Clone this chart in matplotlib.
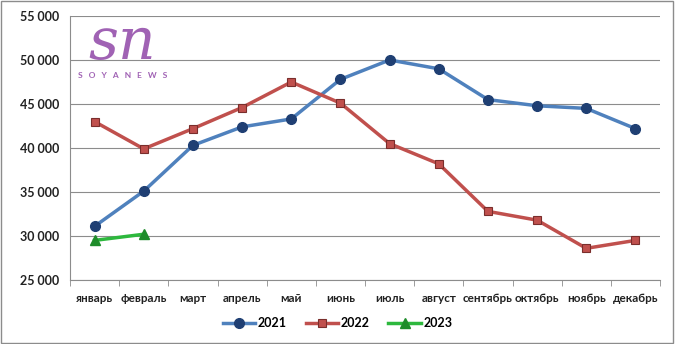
import matplotlib
matplotlib.use("Agg")
import matplotlib.pyplot as plt
from matplotlib.ticker import FuncFormatter, MultipleLocator
import numpy as np

months = ["январь", "февраль", "март", "апрель", "май", "июнь",
          "июль", "август", "сентябрь", "октябрь", "ноябрь", "декабрь"]
v2021 = [31100, 35100, 40300, 42400, 43300, 47800, 50000, 49000, 45500, 44800, 44500, 42200]
v2022 = [43000, 39900, 42200, 44600, 47500, 45100, 40500, 38200, 32800, 31800, 28600, 29500]
v2023 = [29500, 30200]

plt.rcParams['font.family'] = ['Lato', 'DejaVu Sans']

fig = plt.figure(figsize=(6.75, 3.44), dpi=100)
ax = fig.add_axes([70 / 675, 1 - 280 / 344, 590 / 675, 264 / 344])

x = np.arange(len(months))
ax.plot(x, v2021, color="#4F81BD", lw=2.5, marker="o", ms=7,
        mfc="#1F3F73", mec="#1F3F73", label="2021", zorder=3)
ax.plot(x, v2022, color="#C0504D", lw=2.5, marker="s", ms=6,
        mfc="#C0504D", mec="#7A2E2C", mew=0.8, label="2022", zorder=3)
ax.plot(x[:len(v2023)], v2023, color="#2DB83D", lw=2.5, marker="^", ms=7,
        mfc="#1E8C2A", mec="#1E8C2A", label="2023", zorder=3)

ax.set_ylim(25000, 55000)
ax.set_xlim(-0.5, 11.5)
ax.yaxis.set_major_locator(MultipleLocator(5000))
ax.yaxis.set_major_formatter(FuncFormatter(lambda v, p: f"{int(v):,}".replace(",", " ")))
ax.grid(axis="y", color="#8C8C8C", lw=0.8)
ax.set_axisbelow(True)

ax.set_xticks(x)
ax.set_xticklabels(months)
ax.set_xticks(np.arange(-0.5, 12, 1), minor=True)
ax.tick_params(axis="x", which="major", length=0, pad=9, labelsize=8.5)
ax.tick_params(axis="x", which="minor", length=4, color="#8C8C8C")
ax.tick_params(axis="y", length=0, labelsize=9, pad=8)
for lbl in ax.get_xticklabels() + ax.get_yticklabels():
    lbl.set_fontweight("bold")
    lbl.set_color("#222222")

for s in ["top", "right"]:
    ax.spines[s].set_visible(False)
for s in ["left", "bottom"]:
    ax.spines[s].set_color("#8C8C8C")

leg = fig.legend(loc="center", bbox_to_anchor=(0.5, 1 - 323 / 344), ncol=3,
                 frameon=False, fontsize=9, handlelength=2.6, columnspacing=1.5,
                 handletextpad=0.2)
for t in leg.get_texts():
    t.set_fontweight("bold")

# логотип
fig.text(122 / 675, 1 - 59 / 344, "sn", color="#A062B4", fontsize=42,
         family="DejaVu Serif", style="italic", ha="center", va="baseline")
fig.text(123 / 675, 1 - 75 / 344, "S   O   Y   A   N   E   W   S", color="#A062B4",
         fontsize=6, fontweight="bold", ha="center", va="center")

fig.patches.append(plt.Rectangle((0.002, 0.003), 0.995, 0.993, transform=fig.transFigure,
                                 fill=False, ec="#8C8C8C", lw=1))

fig.savefig("out.png", dpi=100)
